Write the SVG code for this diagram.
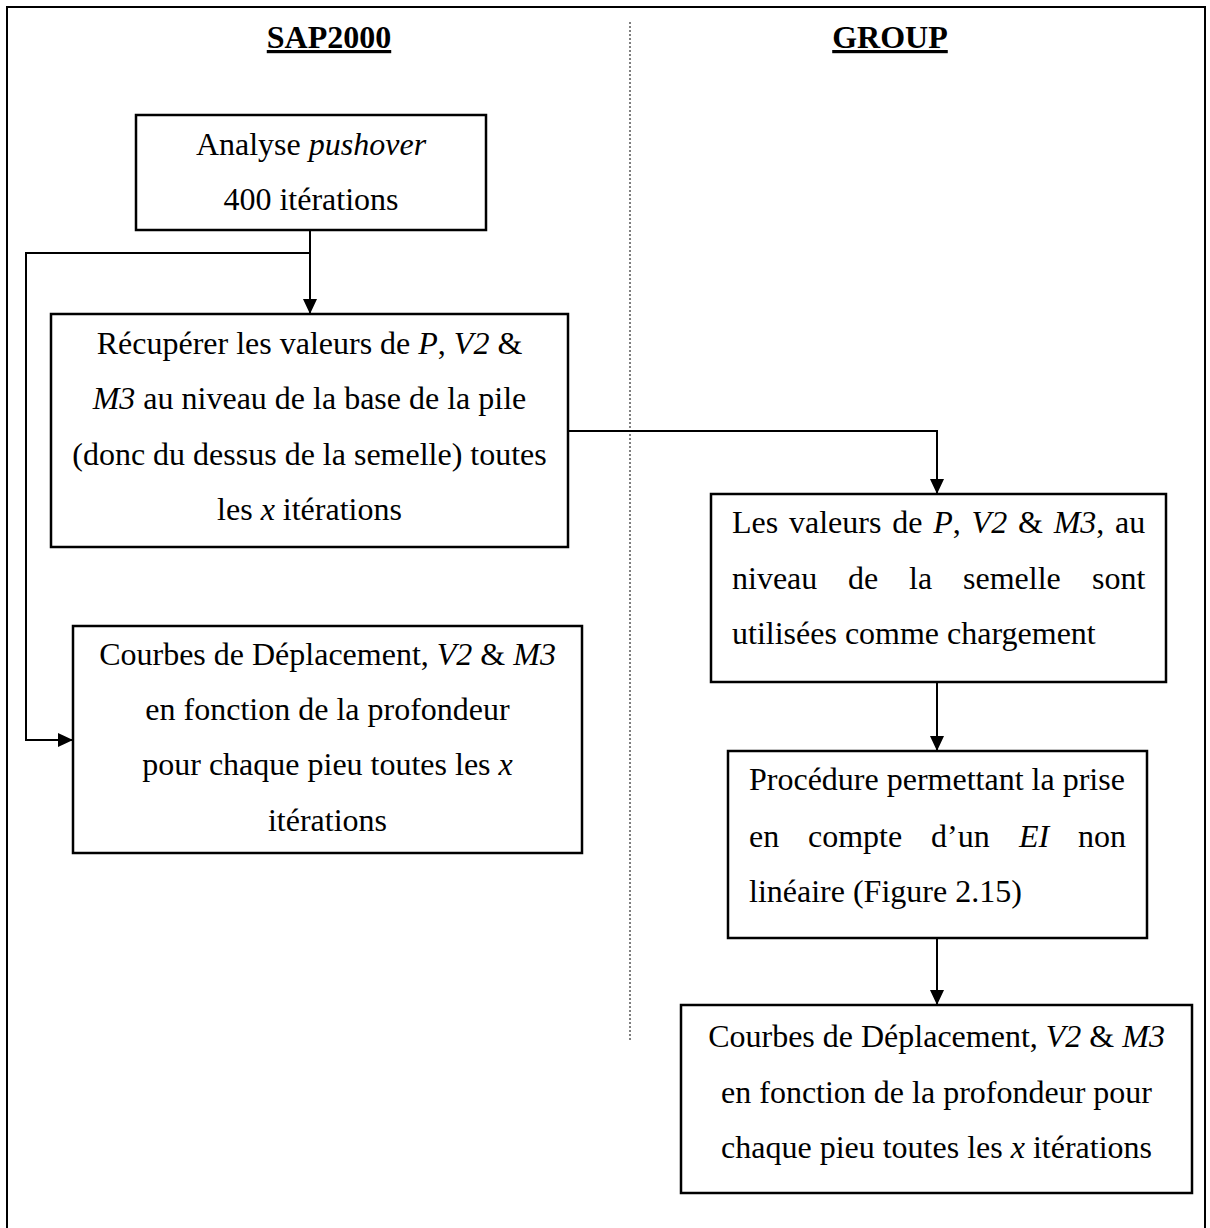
<svg xmlns="http://www.w3.org/2000/svg" width="1210" height="1228" viewBox="0 0 1210 1228">
<style>
.t{font-family:"Liberation Serif","Times New Roman",serif;font-size:32px;fill:#000}
.c{text-anchor:middle}
.i{font-style:italic}
.h{font-family:"Liberation Serif","Times New Roman",serif;font-size:32px;font-weight:bold;text-anchor:middle;text-decoration:underline}
.box{fill:#fff;stroke:#000;stroke-width:2.5}
.ln{fill:none;stroke:#000;stroke-width:2}
</style>
<defs>
<marker id="ah" markerWidth="15" markerHeight="14" refX="15" refY="7" orient="auto" markerUnits="userSpaceOnUse">
<path d="M0,0 L15,7 L0,14 Z" fill="#000"/>
</marker>
</defs>
<rect width="1210" height="1228" fill="#fff"/>
<g id="frame">
<path d="M7,1240 L7,7 L1205,7 L1205,1240" fill="none" stroke="#000" stroke-width="2"/>
<line x1="630" y1="22" x2="630" y2="1042" stroke="#000" stroke-width="1" stroke-dasharray="2,2"/>
</g>
<g id="titles">
<text class="h" x="329" y="48">SAP2000</text>
<text class="h" x="890" y="48">GROUP</text>
</g>
<g id="connectors">
<line class="ln" x1="310" y1="230" x2="310" y2="314" marker-end="url(#ah)"/>
<polyline class="ln" points="310,253 26,253 26,740 73,740" marker-end="url(#ah)"/>
<polyline class="ln" points="568,431 937,431 937,494" marker-end="url(#ah)"/>
<line class="ln" x1="937" y1="682" x2="937" y2="751" marker-end="url(#ah)"/>
<line class="ln" x1="937" y1="938" x2="937" y2="1005" marker-end="url(#ah)"/>
</g>
<g id="n1">
<rect class="box" x="136" y="115" width="350" height="115"/>
<text class="t c" x="311" y="155">Analyse <tspan class="i">pushover</tspan></text>
<text class="t c" x="311" y="210">400 itérations</text>
</g>
<g id="n2">
<rect class="box" x="51" y="314" width="517" height="233"/>
<text class="t c" x="309.5" y="354">Récupérer les valeurs de <tspan class="i">P</tspan>, <tspan class="i">V2</tspan> &amp;</text>
<text class="t c" x="309.5" y="409"><tspan class="i">M3</tspan> au niveau de la base de la pile</text>
<text class="t c" x="309.5" y="465">(donc du dessus de la semelle) toutes</text>
<text class="t c" x="309.5" y="520">les <tspan class="i">x</tspan> itérations</text>
</g>
<g id="n3">
<rect class="box" x="73" y="626" width="509" height="227"/>
<text class="t c" x="327.5" y="665">Courbes de Déplacement, <tspan class="i">V2</tspan> &amp; <tspan class="i">M3</tspan></text>
<text class="t c" x="327.5" y="720">en fonction de la profondeur</text>
<text class="t c" x="327.5" y="775">pour chaque pieu toutes les <tspan class="i">x</tspan></text>
<text class="t c" x="327.5" y="831">itérations</text>
</g>
<g id="n4">
<rect class="box" x="711" y="494" width="455" height="188"/>
<text class="t" x="732" y="533" word-spacing="2.8">Les valeurs de <tspan class="i">P</tspan>, <tspan class="i">V2</tspan> &amp; <tspan class="i">M3</tspan>, au</text>
<text class="t" y="589"><tspan x="732">niveau</tspan><tspan x="848">de</tspan><tspan x="909">la</tspan><tspan x="963">semelle</tspan><tspan x="1092">sont</tspan></text>
<text class="t" x="732" y="644">utilisées comme chargement</text>
</g>
<g id="n5">
<rect class="box" x="728" y="751" width="419" height="187"/>
<text class="t" x="749" y="790">Procédure permettant la prise</text>
<text class="t" y="847"><tspan x="749">en</tspan><tspan x="808">compte</tspan><tspan x="931">d’un</tspan><tspan x="1019" class="i">EI</tspan><tspan x="1078">non</tspan></text>
<text class="t" x="749" y="902">linéaire (Figure 2.15)</text>
</g>
<g id="n6">
<rect class="box" x="681" y="1005" width="511" height="188"/>
<text class="t c" x="936.5" y="1047">Courbes de Déplacement, <tspan class="i">V2</tspan> &amp; <tspan class="i">M3</tspan></text>
<text class="t c" x="936.5" y="1103">en fonction de la profondeur pour</text>
<text class="t c" x="936.5" y="1158">chaque pieu toutes les <tspan class="i">x</tspan> itérations</text>
</g>
</svg>
